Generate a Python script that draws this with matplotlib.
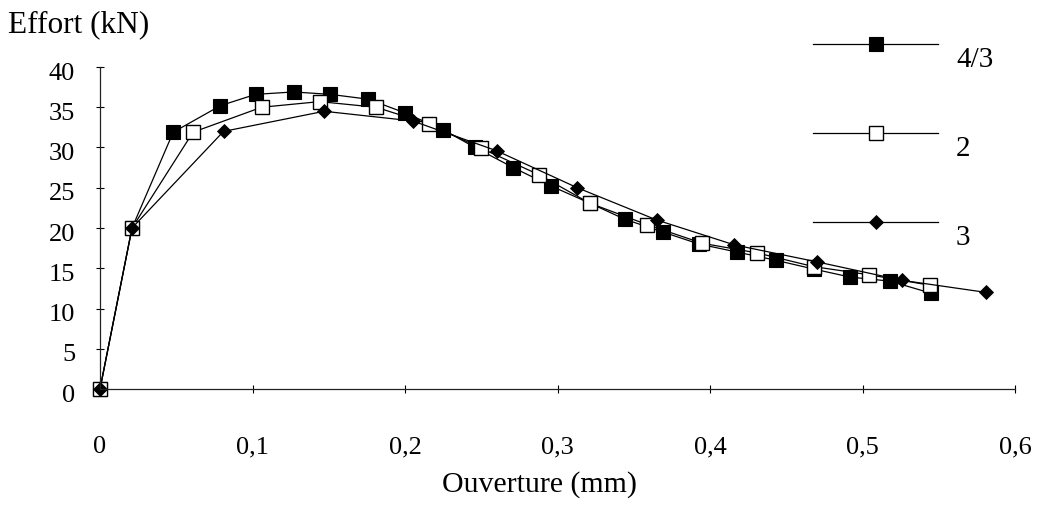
import matplotlib
matplotlib.use("Agg")
import matplotlib.pyplot as plt
from matplotlib.transforms import ScaledTranslation

# ---- data ----
x_43 = [0, 0.021, 0.048, 0.079, 0.102, 0.127, 0.151, 0.176, 0.200, 0.225, 0.246,
        0.271, 0.296, 0.321, 0.344, 0.369, 0.393, 0.418, 0.443, 0.468, 0.492,
        0.518, 0.545]
y_43 = [0, 20.0, 31.9, 35.2, 36.6, 36.9, 36.6, 36.0, 34.3, 32.2, 30.0,
        27.5, 25.2, 23.1, 21.1, 19.5, 18.0, 17.0, 16.0, 14.9, 13.9,
        13.4, 11.9]

x_2 = [0, 0.021, 0.061, 0.106, 0.144, 0.181, 0.216, 0.250, 0.288, 0.321,
       0.359, 0.395, 0.431, 0.468, 0.504, 0.544]
y_2 = [0, 20.0, 31.9, 35.0, 35.7, 35.0, 32.9, 29.9, 26.6, 23.1,
       20.4, 18.1, 16.9, 15.2, 14.2, 12.9]

x_3 = [0, 0.021, 0.081, 0.147, 0.205, 0.260, 0.313, 0.365, 0.416, 0.470,
       0.526, 0.581]
y_3 = [0, 20.0, 32.0, 34.5, 33.3, 29.6, 25.0, 21.0, 17.9, 15.8,
       13.5, 12.0]

series_labels = ["4/3", "2", "3"]
x_ticks = [0, 0.1, 0.2, 0.3, 0.4, 0.5, 0.6]
x_tick_labels = ["0", "0,1", "0,2", "0,3", "0,4", "0,5", "0,6"]
y_ticks = [0, 5, 10, 15, 20, 25, 30, 35, 40]

plt.rcParams['font.family'] = ['Liberation Serif', 'DejaVu Serif']

W, H = 1037, 511
fig = plt.figure(figsize=(W / 100, H / 100), dpi=100)
ax = fig.add_axes([100 / W, 1 - 389 / H, (1015 - 100) / W, (389 - 67) / H])

lw = 0.9
l1, = ax.plot(x_43, y_43, color='black', lw=lw, marker='s', ms=10.5,
              mfc='black', mec='black', mew=0.8, label=series_labels[0])
l2, = ax.plot(x_2, y_2, color='black', lw=lw, marker='s', ms=10.5,
              mfc='white', mec='black', mew=1.0, label=series_labels[1])
l3, = ax.plot(x_3, y_3, color='black', lw=lw, marker='D', ms=7,
              mfc='black', mec='black', mew=0.6, label=series_labels[2])

for l in (l1, l2, l3):
    l.set_clip_on(False)

ax.set_xlim(0, 0.6)
ax.set_ylim(0, 40)
ax.set_xticks(x_ticks)
ax.set_xticklabels(x_tick_labels)
ax.set_yticks(y_ticks)

for s in ('top', 'right'):
    ax.spines[s].set_visible(False)
for s in ('left', 'bottom'):
    ax.spines[s].set_linewidth(0.9)
    ax.spines[s].set_color('#222222')

ax.tick_params(axis='both', direction='inout', length=6, width=0.8,
               labelsize=19, colors='black')
ax.tick_params(axis='y', pad=15)
ax.tick_params(axis='x', pad=31)

off = ScaledTranslation(0, -4 / 100, fig.dpi_scale_trans)
for lab in ax.get_yticklabels():
    lab.set_transform(lab.get_transform() + off)

fig.text(8 / W, 1 - 32 / H, "Effort (kN)", fontsize=22.5, ha='left',
         va='baseline')
fig.text(540 / W, 1 - 485 / H, "Ouverture (mm)", fontsize=21.5, ha='center',
         va='center')

leg = ax.legend(handles=[l1, l2, l3], loc='upper left',
                bbox_to_anchor=(813 / W, 1 - 34 / H),
                bbox_transform=fig.transFigure, frameon=False,
                fontsize=21, handlelength=4.3, handletextpad=0.6,
                labelspacing=2.14, borderpad=0, borderaxespad=0)
for t in leg.get_texts():
    t.set_position((0, -13))

fig.savefig("out.png", dpi=100, facecolor='white')
